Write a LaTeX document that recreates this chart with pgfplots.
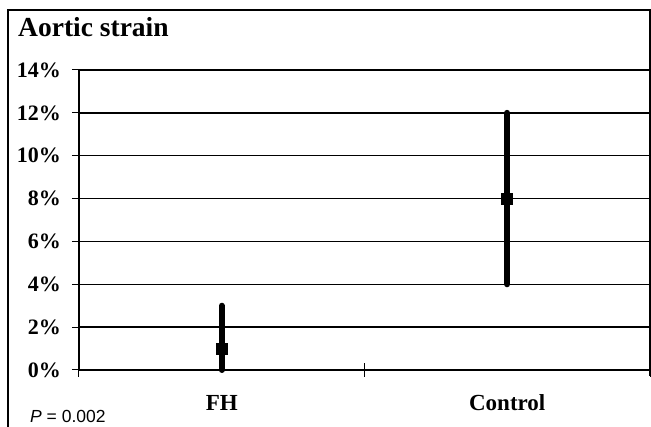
\documentclass[border=0pt]{standalone}
\usepackage{fontspec}
\setmainfont{Liberation Serif}
\newfontfamily\arial{Liberation Sans}
\usepackage{pgfplots}
\pgfplotsset{compat=1.18}
\begin{document}
\begin{tikzpicture}[x=1pt,y=1pt]
\path[use as bounding box] (0,0) rectangle (651,427);
\draw[line width=1.4pt] (8,0) -- (8,417) -- (650,417) -- (650,51);
\node[anchor=base west, inner sep=0, font=\fontsize{27.5}{27.5}\selectfont\bfseries] at (18,390) {Aortic strain};
\node[anchor=base west, inner sep=0, font=\arial\fontsize{17.5}{17.5}\selectfont] at (30,4) {\textit{P} = 0.002};
\begin{axis}[
  at={(79pt,57pt)}, anchor=south west,
  scale only axis, width=571pt, height=300pt,
  xmin=-0.5, xmax=1.5, ymin=0, ymax=14,
  clip=false,
  axis x line*=bottom, axis y line*=left,
  axis line style={black, line width=1.5pt},
  ymajorgrids, grid style={black, line width=1.5pt},
  ytick={0,2,...,14},
  yticklabel={\pgfmathprintnumber[assume math mode=true]{\tick}\%},
  ytick align=outside,
  major tick length=7pt,
  xtick={0,1}, xticklabels={FH,Control},
  major x tick style={draw=none},
  minor xtick={-0.5,0.5,1.5}, minor tick length=14pt, xtick align=center,
  tick style={black, line width=1pt},
  every y tick label/.append style={font=\fontsize{22}{22}\selectfont\bfseries, inner sep=0pt, xshift=-11pt},
  every x tick label/.append style={font=\fontsize{23}{23}\selectfont\bfseries, yshift=-18pt},
]
\addplot[only marks, mark=square*, mark size=5.5pt, black, mark options={line width=0pt},
  error bars/.cd, y dir=both, y explicit, error mark=none,
  error bar style={line width=6pt, line cap=round, black}]
  coordinates {
    (0,1) += (0,2) -= (0,1)
    (1,8) += (0,4) -= (0,4)
  };
\end{axis}
\end{tikzpicture}
\end{document}
